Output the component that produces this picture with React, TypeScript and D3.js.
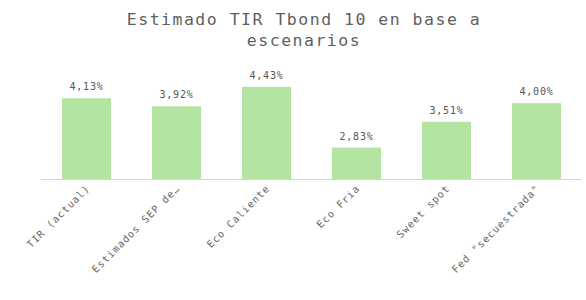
import React from "react";
import * as d3 from "d3";

const categories = ["TIR (actual)", "Estimados SEP de…", "Eco Caliente", "Eco Fria", "Sweet spot", "Fed \"secuestrada\""];
const values = [4.13, 3.92, 4.43, 2.83, 3.51, 4.0];
const valueLabels = ["4,13%", "3,92%", "4,43%", "2,83%", "3,51%", "4,00%"];

const W = 586, H = 300;
const x0 = 41.5, x1 = 581.5, yBase = 179;

export default function App() {
  const x = d3.scaleBand<string>().domain(categories).range([x0, x1]).paddingInner(0.455).paddingOuter(0.2275);
  const y = d3.scaleLinear().domain([2, 5]).range([yBase, yBase - 3 * 37.9]);
  const mono = "'DejaVu Sans Mono', monospace";
  return (
    <svg width={W} height={H} style={{ position: "absolute", left: 0, top: 0, background: "#fff" }}>
      <text x={304} y={25} textAnchor="middle" fontFamily={mono} fontSize={16.5} letterSpacing={1.5} fill="#5f5f5f">
        Estimado TIR Tbond 10 en base a
      </text>
      <text x={304} y={46} textAnchor="middle" fontFamily={mono} fontSize={16.5} letterSpacing={1.5} fill="#5f5f5f">
        escenarios
      </text>
      {categories.map((c, i) => (
        <rect key={c} x={x(c)!} y={y(values[i])} width={x.bandwidth()} height={yBase - y(values[i])} fill="#b3e4a1" />
      ))}
      <line x1={x0} x2={x1} y1={yBase + 0.5} y2={yBase + 0.5} stroke="#d4d4d4" />
      {categories.map((c, i) => (
        <text key={c + "v"} x={x(c)! + x.bandwidth() / 2} y={y(values[i]) - 8} textAnchor="middle" fontFamily={mono} fontSize={10} letterSpacing={0.8} fill="#555">
          {valueLabels[i]}
        </text>
      ))}
      {categories.map((c) => {
        const cx = x(c)! + x.bandwidth() / 2 + 4;
        return (
          <text key={c + "t"} transform={`translate(${cx},${yBase + 10}) rotate(-45)`} textAnchor="end" fontFamily={mono} fontSize={10} letterSpacing={1} fill="#666">
            {c}
          </text>
        );
      })}
    </svg>
  );
}
